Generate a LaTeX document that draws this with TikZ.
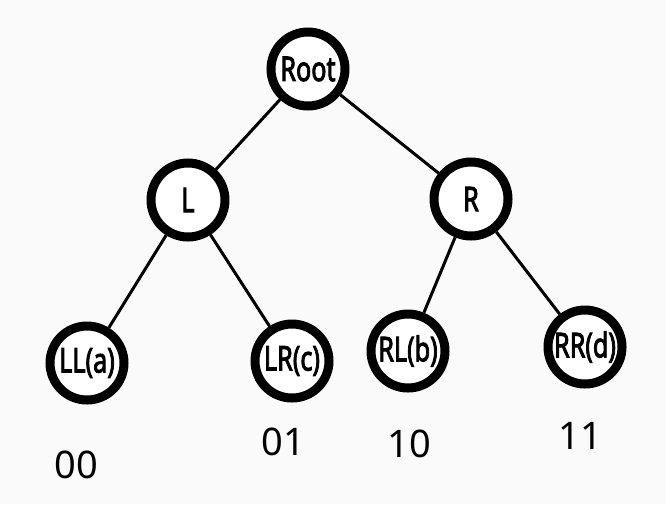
\documentclass[tikz,border=0pt]{standalone}
\usepackage{graphicx}
\usepackage{fontspec}
\setmainfont{Noto Sans}
\newfontfamily\nodefont[FakeBold=3]{Noto Sans}
\newcommand{\ntxt}[1]{\scalebox{0.74}[1]{#1}}
\definecolor{bgcol}{RGB}{250,250,250}
\begin{document}
\begin{tikzpicture}[x=1pt,y=-1pt,
  treenode/.style={circle,draw=black,line width=9pt,fill=white,inner sep=0pt,
    minimum size=74pt,font=\nodefont\fontsize{34}{35}\selectfont},
  edge/.style={line width=3pt,black},
  code/.style={font=\fontsize{38}{40}\selectfont,inner sep=0pt}]
\fill[bgcol] (0,0) rectangle (666,504);
\useasboundingbox (0,0) rectangle (666,504);
\node[treenode] (root) at (308,69) {\ntxt{Root}};
\node[treenode] (l) at (188,200) {\ntxt{L}};
\node[treenode] (r) at (471,199) {\ntxt{R}};
\node[treenode] (ll) at (87,363) {\ntxt{LL(a)}};
\node[treenode] (lr) at (292,361) {\ntxt{LR(c)}};
\node[treenode] (rl) at (408,351) {\ntxt{RL(b)}};
\node[treenode] (rr) at (585,347) {\ntxt{RR(d)}};
\draw[edge] (root) -- (l);
\draw[edge] (root) -- (r);
\draw[edge] (l) -- (ll);
\draw[edge] (l) -- (lr);
\draw[edge] (r) -- (rl);
\draw[edge] (r) -- (rr);
\node[code] (c00) at (76,465) {00};
\node[code] (c01) at (283,442) {01};
\node[code] (c10) at (409,444) {10};
\node[code] (c11) at (580,436) {11};
\end{tikzpicture}
\end{document}
